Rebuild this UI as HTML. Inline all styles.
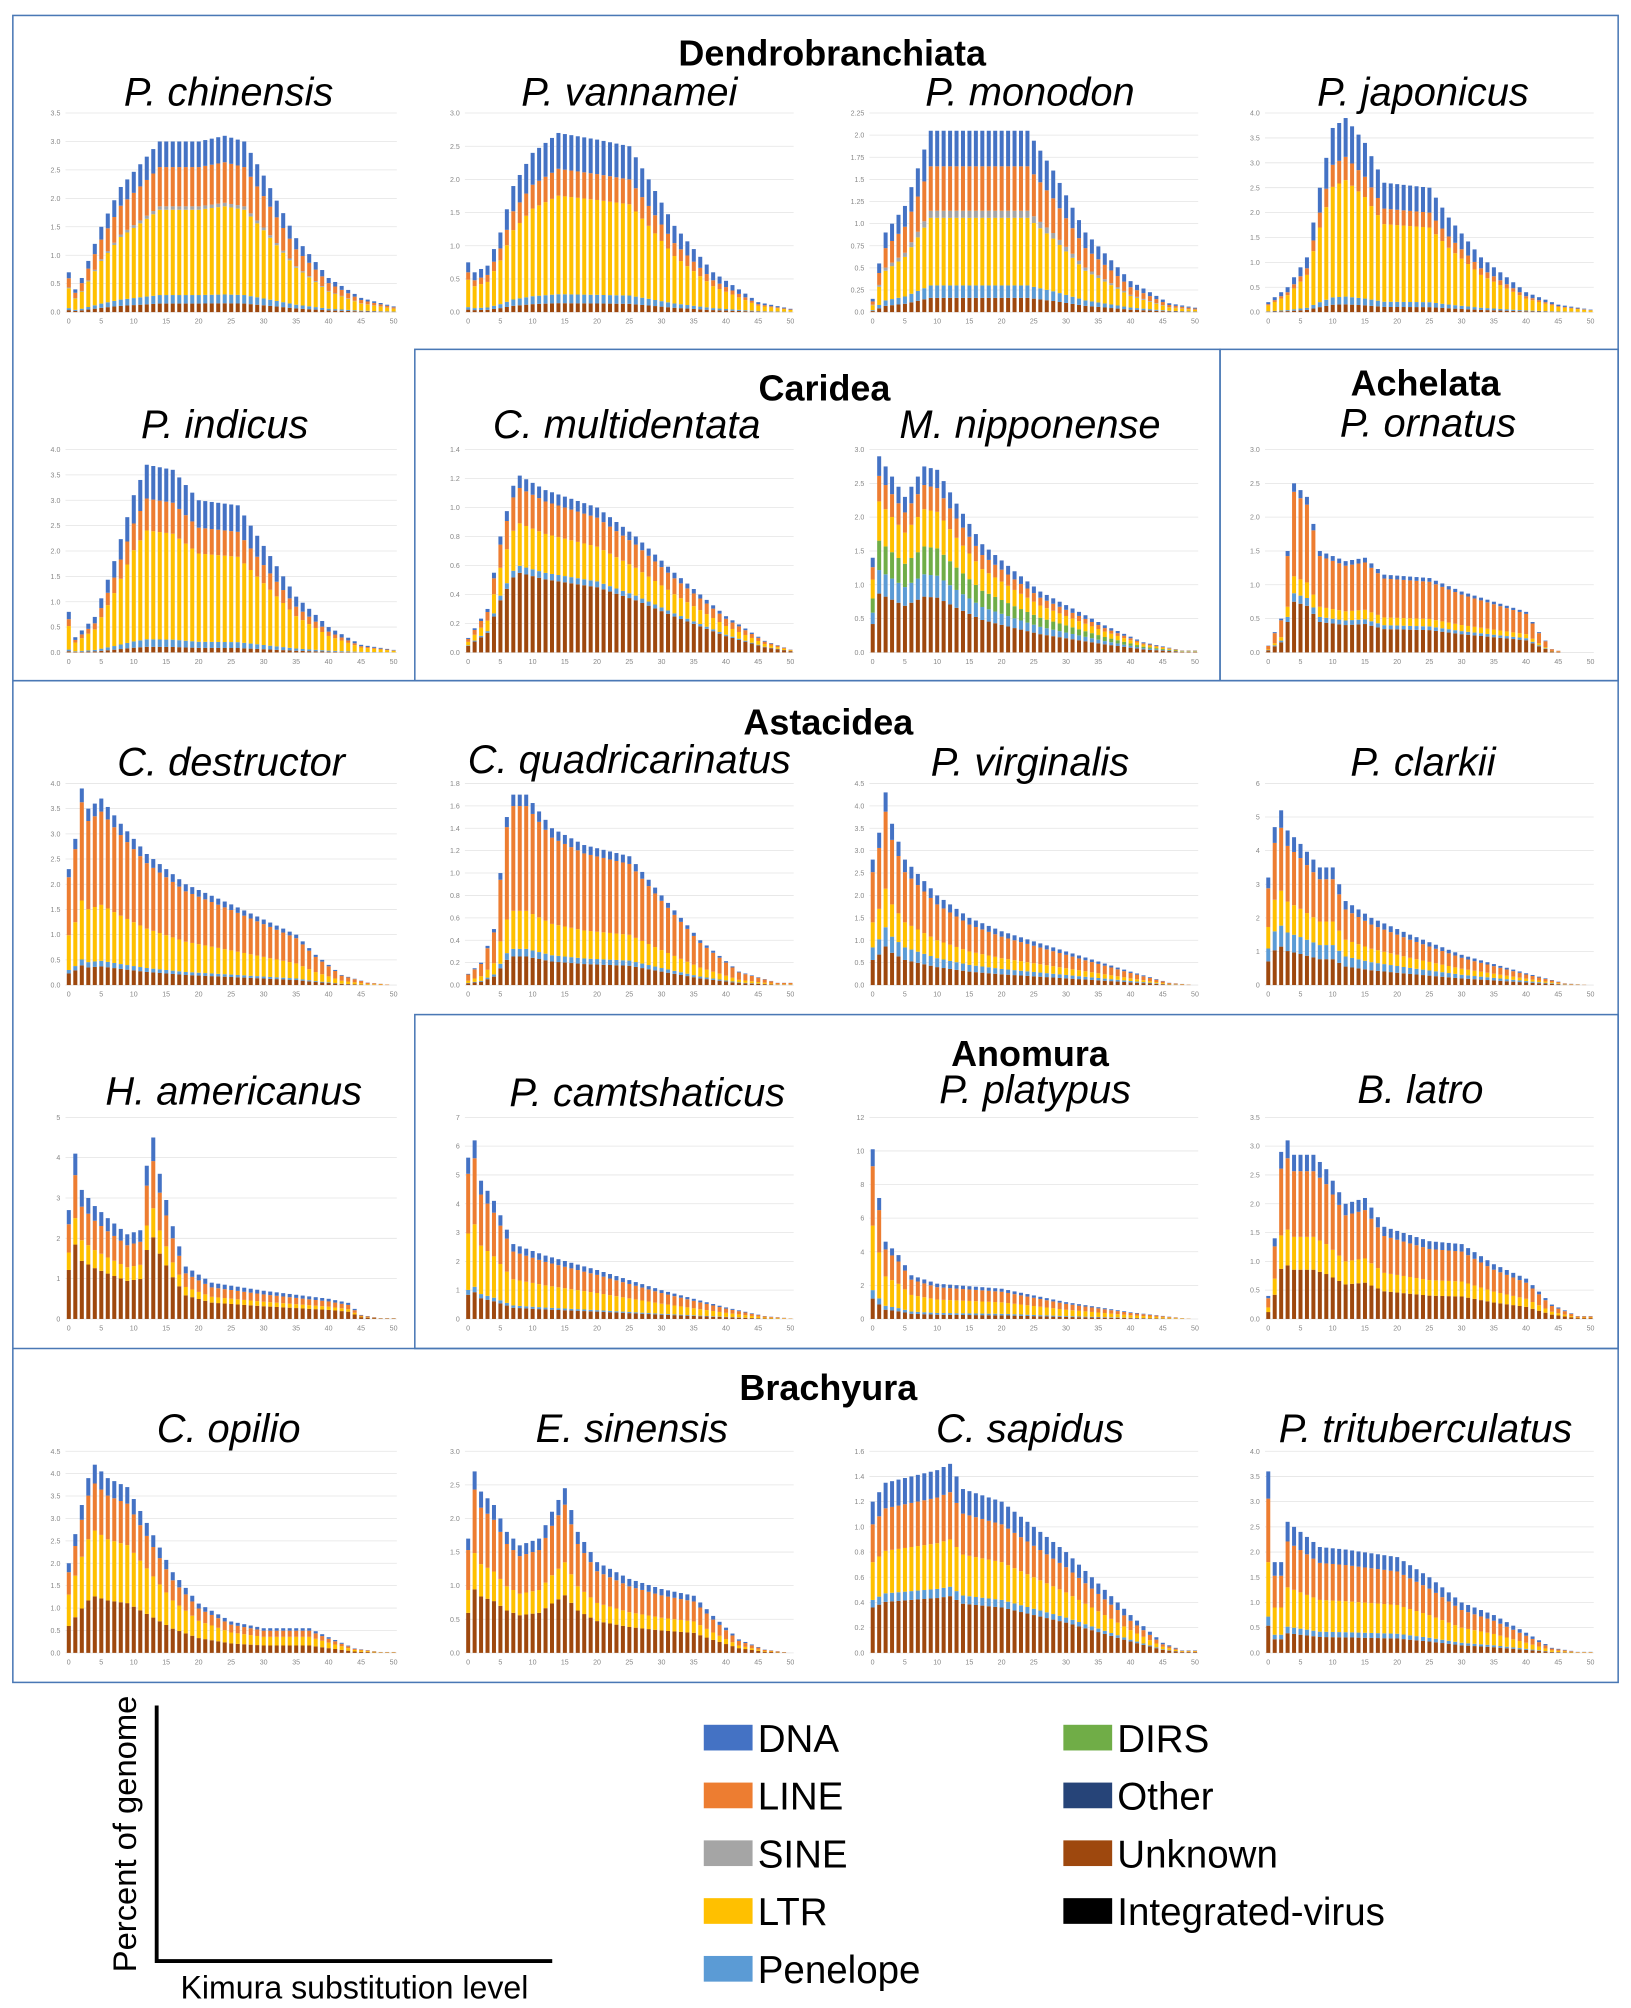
<!DOCTYPE html>
<html><head><meta charset="utf-8"><style>
html,body{margin:0;padding:0;background:#fff}
svg{display:block}
text{font-family:"Liberation Sans",sans-serif}
</style></head><body>
<svg id="s" xmlns="http://www.w3.org/2000/svg" width="1631" height="2008" viewBox="0 0 1270 1563.5">
<rect width="1270" height="1564" fill="#fff"/>
<g fill="none" stroke="#4a78b5" stroke-width="1.2">
<rect x="10" y="12" width="1250" height="1298"/>
<line x1="10" y1="530" x2="1260" y2="530"/>
<line x1="10" y1="1050" x2="1260" y2="1050"/>
<rect x="323" y="272" width="627" height="258"/>
<rect x="950" y="272" width="310" height="258"/>
<rect x="323" y="790" width="937" height="260"/>
</g>
<g font-weight="bold" font-size="28" text-anchor="middle">
<text x="648" y="51">Dendrobranchiata</text>
<text x="642" y="312">Caridea</text>
<text x="1110" y="308">Achelata</text>
<text x="645" y="572">Astacidea</text>
<text x="802" y="830">Anomura</text>
<text x="645" y="1090">Brachyura</text>
</g>
<g id="charts"></g>
<g font-style="italic" font-size="31" text-anchor="middle">
<text x="178" y="82">P. chinensis</text>
<text x="490" y="82">P. vannamei</text>
<text x="802" y="82">P. monodon</text>
<text x="1108" y="82">P. japonicus</text>
<text x="175" y="341">P. indicus</text>
<text x="488" y="341">C. multidentata</text>
<text x="802" y="341">M. nipponense</text>
<text x="1112" y="340">P. ornatus</text>
<text x="180" y="604">C. destructor</text>
<text x="490" y="602">C. quadricarinatus</text>
<text x="802" y="604">P. virginalis</text>
<text x="1108" y="604">P. clarkii</text>
<text x="182" y="860">H. americanus</text>
<text x="504" y="861">P. camtshaticus</text>
<text x="806" y="859">P. platypus</text>
<text x="1106" y="859">B. latro</text>
<text x="178" y="1123">C. opilio</text>
<text x="492" y="1123">E. sinensis</text>
<text x="802" y="1123">C. sapidus</text>
<text x="1110" y="1123">P. trituberculatus</text>
</g>
<path d="M122 1328 V1527 H430" fill="none" stroke="#000" stroke-width="3"/>
<text font-size="25.5" text-anchor="middle" transform="translate(106,1428) rotate(-90)">Percent of genome</text>
<text x="276" y="1556" font-size="25" text-anchor="middle">Kimura substitution level</text>
<g font-size="30">
<rect x="548" y="1343" width="38" height="20" fill="#4472C4"/><text x="590" y="1364">DNA</text>
<rect x="548" y="1388" width="38" height="20" fill="#ED7D31"/><text x="590" y="1409">LINE</text>
<rect x="548" y="1433" width="38" height="20" fill="#A5A5A5"/><text x="590" y="1454">SINE</text>
<rect x="548" y="1478" width="38" height="20" fill="#FFC000"/><text x="590" y="1499">LTR</text>
<rect x="548" y="1523" width="38" height="20" fill="#5B9BD5"/><text x="590" y="1544">Penelope</text>
<rect x="828" y="1343" width="38" height="20" fill="#70AD47"/><text x="870" y="1364">DIRS</text>
<rect x="828" y="1388" width="38" height="20" fill="#264478"/><text x="870" y="1409">Other</text>
<rect x="828" y="1433" width="38" height="20" fill="#9E480E"/><text x="870" y="1454">Unknown</text>
<rect x="828" y="1478" width="38" height="20" fill="#000"/><text x="870" y="1499">Integrated-virus</text>
</g>
</svg>
<script>
var cols=[[51,309],[362,618],[677,933],[985,1241]];
var rows=[[88,243],[350,508],[610,767],[870,1027],[1130,1287]];
var C={unk:"#9E480E",pen:"#5B9BD5",dirs:"#70AD47",ltr:"#FFC000",sine:"#A5A5A5",line:"#ED7D31",dna:"#4472C4"};
var order=["unk","pen","dirs","ltr","sine","line","dna"];
var F1={unk:.05,pen:.05,ltr:.5,sine:.02,line:.23,dna:.15};
var charts=[
[3.5,.5,[[0,.7],[1,.4],[2,.6],[3,.9],[5,1.5],[8,2.2],[11,2.6],[14,3],[20,3],[24,3.1],[27,3],[30,2.4],[35,1.3],[40,.6],[45,.25],[50,.1]],F1],
[3,.5,[[0,.75],[1,.6],[3,.7],[5,1.2],[7,1.9],[10,2.4],[14,2.7],[20,2.6],[25,2.5],[28,2],[32,1.3],[38,.6],[45,.15],[50,.05]],{unk:.05,pen:.05,ltr:.55,line:.15,dna:.2}],
[2.25,.25,[[0,.15],[1,.55],[2,.9],[5,1.2],[9,2.05],[15,2.05],[24,2.05],[28,1.6],[33,.9],[40,.35],[46,.1],[50,.05]],{unk:.08,pen:.07,sine:.04,ltr:.38,line:.25,dna:.2}],
[4,.5,[[0,.2],[3,.5],[6,1.1],[8,2.5],[10,3.7],[12,3.9],[15,3.4],[18,2.6],[25,2.5],[28,1.9],[33,1.1],[40,.4],[45,.15],[50,.05]],{unk:.04,pen:.04,ltr:.6,line:.12,dna:.2}],
[4,.5,[[0,.8],[1,.3],[4,.7],[7,1.8],[10,3.1],[12,3.7],[16,3.6],[20,3],[26,2.9],[30,2.1],[35,1.1],[40,.5],[45,.15],[50,.05]],{unk:.03,pen:.04,ltr:.58,line:.17,dna:.18}],
[1.4,.2,[[0,.1],[3,.3],[5,.8],[7,1.15],[8,1.22],[12,1.12],[20,1],[26,.8],[32,.55],[40,.25],[46,.08],[50,.02]],{unk:.45,pen:.04,ltr:.24,line:.2,dna:.07}],
[3,.5,[[0,1.4],[1,2.9],[3,2.6],[5,2.3],[8,2.75],[10,2.7],[13,2.2],[17,1.6],[22,1.2],[26,.9],[30,.7],[36,.4],[42,.15],[48,.03]],{unk:.3,pen:.12,dirs:.15,ltr:.2,line:.13,dna:.1}],
[3,.5,[[0,.1],[2,.5],[3,1.5],[4,2.5],[6,2.3],[8,1.5],[12,1.35],[15,1.4],[18,1.15],[25,1.1],[30,.9],[35,.75],[40,.6],[42,.3],[44,.05],[46,0]],{unk:.3,pen:.05,ltr:.1,line:.5,dna:.05}],
[4,.5,[[0,2.3],[1,2.9],[2,3.9],[3,3.5],[5,3.7],[8,3.2],[12,2.6],[18,2],[25,1.6],[30,1.3],[35,1],[38,.6],[42,.2],[46,.05],[50,0]],{unk:.1,pen:.03,ltr:.3,line:.5,dna:.07}],
[1.8,.2,[[0,.1],[2,.2],[4,.5],[5,1],[6,1.5],[7,1.7],[9,1.7],[13,1.4],[18,1.25],[25,1.15],[30,.8],[36,.4],[42,.12],[48,.02]],{unk:.15,pen:.04,ltr:.2,line:.55,dna:.06}],
[4.5,.5,[[0,2.8],[1,3.4],[2,4.3],[3,3.6],[5,2.8],[10,2],[15,1.5],[20,1.2],[30,.75],[40,.3],[46,.05],[50,0]],{unk:.2,pen:.1,ltr:.2,line:.4,dna:.1}],
[6,1,[[0,3.2],[1,4.7],[2,5.2],[3,4.6],[5,4.2],[8,3.5],[10,3.5],[12,2.5],[16,2],[22,1.5],[30,.9],[40,.35],[46,.05],[50,0]],{unk:.22,pen:.12,ltr:.2,line:.36,dna:.1}],
[5,1,[[0,2.7],[1,4.1],[2,3.2],[4,2.8],[6,2.5],[9,2.1],[11,2.2],[12,3.8],[13,4.5],[14,3.6],[16,2.3],[18,1.3],[22,.9],[30,.7],[40,.5],[43,.4],[45,.1],[48,.02]],{unk:.45,ltr:.16,line:.26,dna:.13}],
[7,1,[[0,5.6],[1,6.2],[2,4.8],[4,4.1],[7,2.6],[12,2.2],[20,1.7],[30,1],[40,.4],[46,.1],[50,.02]],{unk:.15,pen:.03,ltr:.35,line:.37,dna:.1}],
[12,2,[[0,10.1],[1,7.2],[2,4.6],[4,3.8],[6,2.6],[10,2.1],[20,1.8],[30,1],[40,.4],[48,.05],[50,0]],{unk:.12,pen:.05,ltr:.38,line:.35,dna:.1}],
[3.5,.5,[[0,.4],[1,1.4],[2,2.9],[3,3.1],[4,2.85],[7,2.85],[9,2.6],[12,2],[15,2.1],[18,1.6],[25,1.35],[30,1.3],[35,.95],[40,.7],[44,.25],[48,.05]],{unk:.3,ltr:.2,line:.4,dna:.1}],
[4.5,.5,[[0,2],[2,3.3],[3,3.9],[4,4.2],[6,3.9],[9,3.7],[12,2.9],[16,1.8],[20,1.1],[25,.7],[30,.55],[37,.55],[40,.35],[44,.1],[48,.02]],{unk:.3,ltr:.35,line:.25,dna:.1}],
[3,.5,[[0,1.7],[1,2.7],[2,2.4],[4,2.2],[6,1.8],[8,1.6],[11,1.7],[13,2.1],[15,2.45],[17,1.8],[20,1.35],[25,1.1],[30,.95],[35,.85],[38,.55],[42,.2],[46,.05],[50,0]],{unk:.35,ltr:.2,line:.35,dna:.1}],
[1.6,.2,[[0,1.2],[2,1.35],[6,1.4],[10,1.45],[12,1.5],[14,1.3],[20,1.2],[25,1],[30,.8],[35,.55],[40,.3],[45,.08],[48,.02]],{unk:.3,pen:.05,ltr:.25,line:.25,dna:.15}],
[4,.5,[[0,3.6],[1,1.8],[2,1.8],[3,2.6],[5,2.4],[8,2.1],[12,2.05],[20,1.9],[25,1.5],[30,1],[35,.75],[40,.4],[44,.1],[48,.02]],{unk:.15,pen:.05,ltr:.3,line:.35,dna:.15}]
];
function interp(p,x){for(var i=0;i<p.length-1;i++){if(x>=p[i][0]&&x<=p[i+1][0]){var t=(x-p[i][0])/(p[i+1][0]-p[i][0]);return p[i][1]+t*(p[i+1][1]-p[i][1]);}}return x<p[0][0]?p[0][1]:p[p.length-1][1];}
var out="";
charts.forEach(function(c,k){
 var r=rows[Math.floor(k/4)],cl=cols[k%4];
 var x0=cl[0],x1=cl[1],yT=r[0],yB=r[1],ymax=c[0],st=c[1];
 var sc=(yB-yT)/ymax;
 for(var v=0;v<=ymax+1e-6;v+=st){var y=yB-v*sc;
  out+='<line x1="'+x0+'" x2="'+x1+'" y1="'+y+'" y2="'+y+'" stroke="#e4e4e4" stroke-width="0.6"/>';
  out+='<text x="'+(x0-4)+'" y="'+(y+2)+'" font-size="5.5" fill="#888" text-anchor="end">'+(st<1?(st<.5?v.toFixed(2).replace(/0$/,''):v.toFixed(1)):v)+'</text>';}
 var bw=(x1-x0)/51;
 for(var i=0;i<=50;i++){
  var tot=interp(c[2],i),y=yB,bx=x0+i*bw+bw*0.2;
  var fr=c[3],s=0;order.forEach(function(kk){s+=fr[kk]||0;});
  order.forEach(function(kk){var f=fr[kk]||0;if(!f)return;var h=tot*f/s*sc;y-=h;
   out+='<rect x="'+bx.toFixed(2)+'" y="'+y.toFixed(2)+'" width="'+(bw*0.62).toFixed(2)+'" height="'+h.toFixed(2)+'" fill="'+C[kk]+'"/>';});
  if(i%5==0)out+='<text x="'+(x0+i*bw+bw/2)+'" y="'+(yB+9)+'" font-size="5.5" fill="#888" text-anchor="middle">'+i+'</text>';
 }
});
document.getElementById("charts").innerHTML=out;
</script>
</body></html>
